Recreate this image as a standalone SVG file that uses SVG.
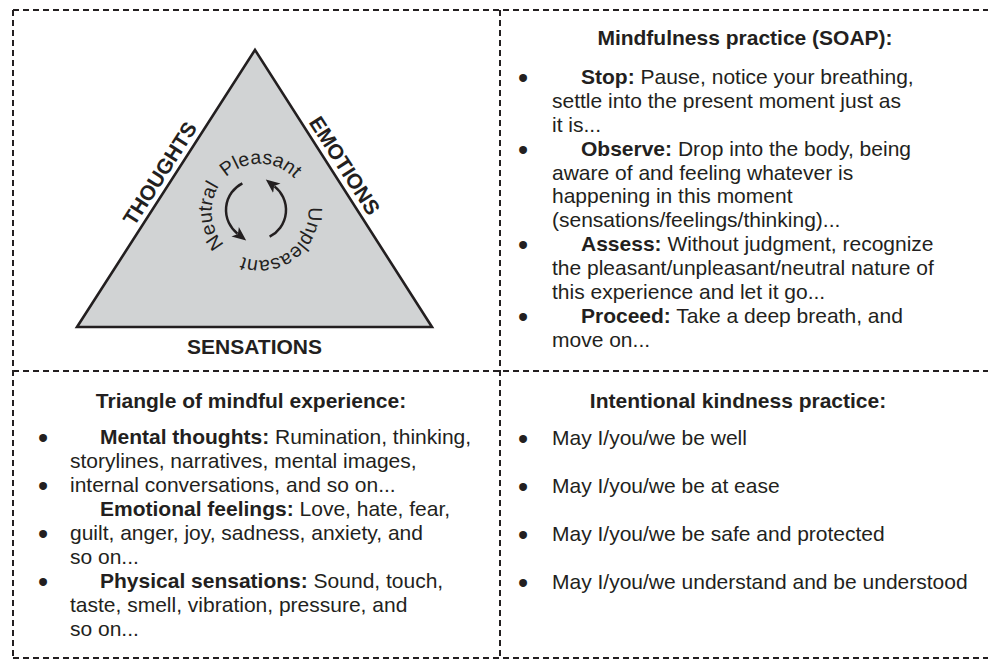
<svg xmlns="http://www.w3.org/2000/svg" width="988" height="660" viewBox="0 0 988 660">
<defs>
<style>
.dash{fill:none;stroke:#231f20;stroke-width:2;stroke-dasharray:6 4}
.t{font-family:"Liberation Sans",Arial,Helvetica,sans-serif;font-size:21px;fill:#231f20}
.b{font-weight:bold}
.ring{font-family:"Liberation Sans",Arial,Helvetica,sans-serif;font-size:19.5px;fill:#231f20}
.bul{font-family:"Liberation Sans",Arial,Helvetica,sans-serif;font-size:29px;fill:#231f20;text-anchor:middle}
.arc{fill:none;stroke:#231f20;stroke-width:2.5}
</style>
<marker id="ah" markerUnits="userSpaceOnUse" markerWidth="16" markerHeight="14" refX="3" refY="6" orient="auto" viewBox="0 0 16 12">
<path d="M0,0 L14,6 L0,12 L3.5,6 z" fill="#231f20"/>
</marker>
<path id="ringPath" d="M232.46,251.31 A48,48 0 1,1 287.54,172.69 A48,48 0 1,1 232.46,251.31"/>
</defs>

<g id="frame">
<line class="dash" x1="13" y1="10" x2="988" y2="10"/>
<line class="dash" x1="13" y1="371" x2="988" y2="371"/>
<line class="dash" x1="13" y1="658" x2="988" y2="658"/>
<line class="dash" x1="13" y1="10" x2="13" y2="658"/>
<line class="dash" x1="500" y1="10" x2="500" y2="658"/>
</g>

<g id="triangle">
<polygon points="255,50 432,327 77,327" fill="#d1d3d4" stroke="#231f20" stroke-width="2.6" stroke-linejoin="miter"/>
<text class="t b" text-anchor="middle" transform="translate(166.1,177.4) rotate(-57.3)">THOUGHTS</text>
<text class="t b" text-anchor="middle" transform="translate(338.5,169.5) rotate(57.4)">EMOTIONS</text>
<text class="t b" x="254.5" y="354" text-anchor="middle">SENSATIONS</text>
</g>

<g id="ring-labels">
<text class="ring"><textPath href="#ringPath" startOffset="42.1" text-anchor="middle">Neutral</textPath></text>
<text class="ring"><textPath href="#ringPath" startOffset="122.7" text-anchor="middle">Pleasant</textPath></text>
<text class="ring"><textPath href="#ringPath" startOffset="242.1" text-anchor="middle">Unpleasant</textPath></text>
</g>

<g id="connectors">
<path class="arc" d="M242.38,183.27 A30,30 0 0,0 237.53,233.64" marker-end="url(#ah)"/>
<path class="arc" d="M269.62,236.73 A30,30 0 0,0 274.47,186.36" marker-end="url(#ah)"/>
</g>

<g id="soap">
<text class="t b" x="745" y="45" text-anchor="middle">Mindfulness practice (SOAP):</text>
<text class="bul" x="523" y="88">•</text>
<text class="bul" x="523" y="160">•</text>
<text class="bul" x="523" y="255">•</text>
<text class="bul" x="523" y="327">•</text>
<text class="t" x="581" y="84"><tspan class="b">Stop:</tspan> Pause, notice your breathing,</text>
<text class="t" x="552" y="108">settle into the present moment just as</text>
<text class="t" x="552" y="132">it is...</text>
<text class="t" x="581" y="156"><tspan class="b">Observe:</tspan> Drop into the body, being</text>
<text class="t" x="552" y="180">aware of and feeling whatever is</text>
<text class="t" x="552" y="203">happening in this moment</text>
<text class="t" x="552" y="227">(sensations/feelings/thinking)...</text>
<text class="t" x="581" y="251"><tspan class="b">Assess:</tspan> Without judgment, recognize</text>
<text class="t" x="552" y="275">the pleasant/unpleasant/neutral nature of</text>
<text class="t" x="552" y="299">this experience and let it go...</text>
<text class="t" x="581" y="323"><tspan class="b">Proceed:</tspan> Take a deep breath, and</text>
<text class="t" x="552" y="347">move on...</text>
</g>

<g id="triangle-list">
<text class="t b" x="251" y="408" text-anchor="middle">Triangle of mindful experience:</text>
<text class="bul" x="43" y="448">•</text>
<text class="bul" x="43" y="496">•</text>
<text class="bul" x="43" y="544">•</text>
<text class="bul" x="43" y="592">•</text>
<text class="t" x="100" y="444"><tspan class="b">Mental thoughts:</tspan> Rumination, thinking,</text>
<text class="t" x="70" y="468">storylines, narratives, mental images,</text>
<text class="t" x="70" y="492">internal conversations, and so on...</text>
<text class="t" x="100" y="516"><tspan class="b">Emotional feelings:</tspan> Love, hate, fear,</text>
<text class="t" x="70" y="540">guilt, anger, joy, sadness, anxiety, and</text>
<text class="t" x="70" y="564">so on...</text>
<text class="t" x="100" y="588"><tspan class="b">Physical sensations:</tspan> Sound, touch,</text>
<text class="t" x="70" y="612">taste, smell, vibration, pressure, and</text>
<text class="t" x="70" y="636">so on...</text>
</g>

<g id="kindness">
<text class="t b" x="738" y="408" text-anchor="middle">Intentional kindness practice:</text>
<text class="bul" x="523" y="449">•</text>
<text class="bul" x="523" y="497">•</text>
<text class="bul" x="523" y="545">•</text>
<text class="bul" x="523" y="593">•</text>
<text class="t" x="552" y="445">May I/you/we be well</text>
<text class="t" x="552" y="493">May I/you/we be at ease</text>
<text class="t" x="552" y="541">May I/you/we be safe and protected</text>
<text class="t" x="552" y="589">May I/you/we understand and be understood</text>
</g>
</svg>
